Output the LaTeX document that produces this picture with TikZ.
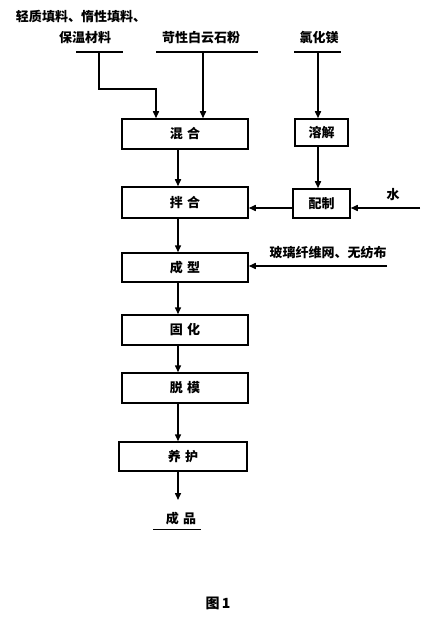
\documentclass[tikz,border=0pt]{standalone}
\usepackage{fontspec}
\newfontfamily\cjk{Noto Sans CJK SC}
\usetikzlibrary{arrows.meta}
\begin{document}
\begin{tikzpicture}[x=1pt,y=-1pt,
  every node/.style={font=\cjk\bfseries\fontsize{13}{15}\selectfont, inner sep=0pt},
  box/.style={draw, line width=1.5pt, minimum width=126pt, minimum height=30pt},
  ln/.style={line width=1.5pt},
  arr/.style={line width=1.5pt, -{Triangle[length=7pt,width=6pt]}}]
\useasboundingbox (0,0) rectangle (438,617);
% labels
\node (l1) at (81,17) {轻质填料、惰性填料、};
\node (l1b) at (85,38) {保温材料};
\node (l2) at (201,38) {苛性白云石粉};
\node (l3) at (319,38) {氯化镁};
\node (w) at (393,195) {水};
\node (g) at (328,253) {玻璃纤维网、无纺布};
\node (p) at (181,519) {成\,\,品};
\node[font=\cjk\bfseries\fontsize{14}{16}\selectfont] (fig) at (218,603) {图\,1};
% underline coordinates
\coordinate (u1a) at (76,52); \coordinate (u1b) at (123,52);
\coordinate (u2a) at (156,52); \coordinate (u2b) at (258,52);
\coordinate (u3a) at (294,52); \coordinate (u3b) at (341,52);
\coordinate (u4a) at (153,529); \coordinate (u4b) at (201,529);
\coordinate (wa) at (420,208);
\coordinate (ga) at (387,266);
\coordinate (cx) at (178,0);
\coordinate (bend) at (99,89);
\coordinate (e) at (178,500);
% boxes
\node[box] (mix) at (185,134) {混\,\,合};
\node[box, minimum width=53pt, minimum height=27pt] (dis) at (321.5,132.5) {溶解};
\node[box, minimum height=31pt] (stir) at (185,202.5) {拌\,\,合};
\node[box, minimum width=57pt, minimum height=29pt] (prep) at (321.5,203.5) {配制};
\node[box, minimum height=29pt] (form) at (185,267.5) {成\,\,型};
\node[box] (cure) at (185,330) {固\,\,化};
\node[box] (dem) at (185,388) {脱\,\,模};
\node[box, minimum width=128pt, minimum height=29pt] (keep) at (183,456.5) {养\,\,护};
% underlines
\draw[ln] (u1a) -- (u1b);
\draw[ln] (u2a) -- (u2b);
\draw[ln] (u3a) -- (u3b);
\draw[line width=1pt] (u4a) -- (u4b);
% feeds
\draw[arr] (u1a -| bend) -- (bend) -| (156,0 |- mix.north);
\draw[arr] (203,52) -- (203,0 |- mix.north);
\draw[arr] (318,52) -- (318,0 |- dis.north);
\draw[arr] (dis.south -| 318,0) -- (prep.north -| 318,0);
\draw[arr] (wa) -- (prep.east |- wa);
\draw[arr] (prep.west |- wa) -- (stir.east |- wa);
\draw[arr] (ga) -- (form.east |- ga);
% main line
\draw[arr] (mix.south -| cx) -- (stir.north -| cx);
\draw[arr] (stir.south -| cx) -- (form.north -| cx);
\draw[arr] (form.south -| cx) -- (cure.north -| cx);
\draw[arr] (cure.south -| cx) -- (dem.north -| cx);
\draw[arr] (dem.south -| cx) -- (keep.north -| cx);
\draw[arr] (keep.south -| cx) -- (e);
\end{tikzpicture}
\end{document}
